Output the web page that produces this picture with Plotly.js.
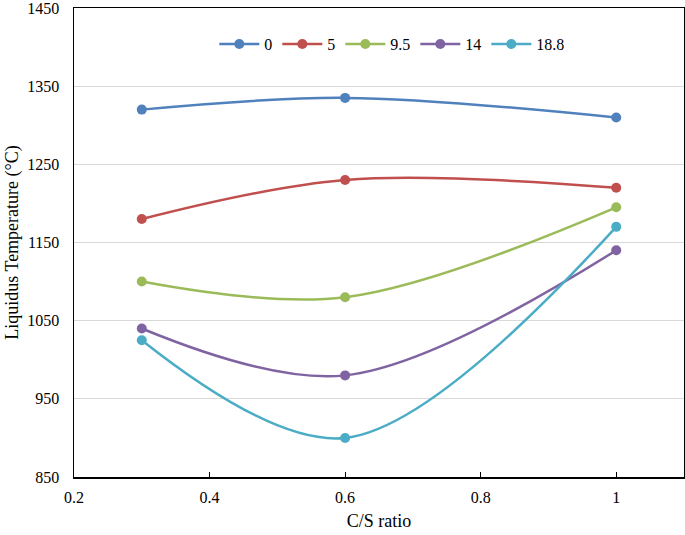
<!DOCTYPE html>
<html><head><meta charset="utf-8">
<script src="https://cdn.plot.ly/plotly-3.0.1.min.js"></script>
<style>body{margin:0;background:#fff}#c{width:685px;height:535px}</style>
</head><body><div id="c"></div>
<script>
const csRatio = [0.3, 0.6, 1];
const seriesNames = ["0", "5", "9.5", "14", "18.8"];
const s0 = [1320, 1335, 1310];
const s5 = [1180, 1230, 1220];
const s9_5 = [1100, 1080, 1195];
const s14 = [1040, 980, 1140];
const s18_8 = [1025, 900, 1170];
const seriesValues = [s0, s5, s9_5, s14, s18_8];
const colors = ["#4F81BD", "#C0504D", "#9BBB59", "#8064A2", "#4BACC6"];
const xTicks = [0.2, 0.4, 0.6, 0.8, 1];
const yTicks = [850, 950, 1050, 1150, 1250, 1350, 1450];

const font = {family: "Liberation Serif", size: 16, color: "#000"};
const titleFont = {family: "Liberation Serif", size: 18, color: "#000"};
const traces = seriesNames.map((n, i) => ({
  x: csRatio, y: seriesValues[i], name: n, type: "scatter", mode: "lines+markers",
  line: {color: colors[i], width: 2.5, shape: "spline", smoothing: 1},
  marker: {color: colors[i], size: 10}
}));
const layout = {
  width: 685, height: 535,
  margin: {l: 74, r: 1, t: 8, b: 58},
  paper_bgcolor: "#fff", plot_bgcolor: "#fff",
  font: font,
  showlegend: true,
  legend: {orientation: "h", x: 0.521, xanchor: "center", y: 0.923, yanchor: "middle",
           font: font, bgcolor: "rgba(0,0,0,0)", tracegroupgap: 0, itemwidth: 40},
  xaxis: {range: [0.2, 1.1], tickvals: xTicks, ticktext: xTicks.map(String),
          showgrid: false, zeroline: false, showline: true, linecolor: "#000", linewidth: 1.5,
          mirror: true, ticks: "inside", ticklen: 5, tickcolor: "#000",
          tickfont: font, ticklabeloverflow: "allow", ticklabelstandoff: 5,
          title: {text: "C/S ratio", font: titleFont, standoff: 9}},
  yaxis: {range: [850, 1450], tickvals: yTicks, showgrid: true, gridcolor: "#d9d9d9",
          zeroline: false, showline: true, linecolor: "#000", linewidth: 1.5, mirror: true,
          ticks: "", tickfont: font, ticklabeloverflow: "allow", ticklabelstandoff: 10,
          title: {text: "Liquidus Temperature (°C)", font: titleFont, standoff: 4}}
};
Plotly.newPlot("c", traces, layout, {displayModeBar: false, staticPlot: true});
</script></body></html>
